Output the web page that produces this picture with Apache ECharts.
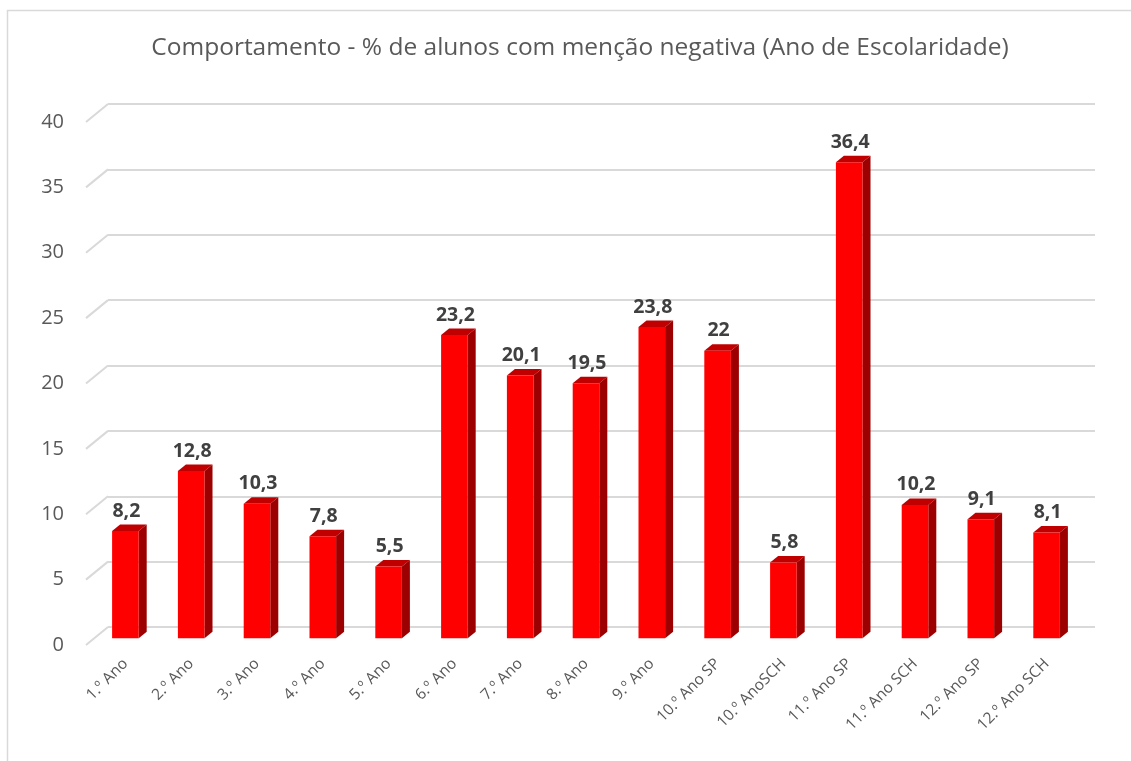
<!DOCTYPE html>
<html>
<head>
<meta charset="utf-8">
<script src="https://cdn.jsdelivr.net/npm/echarts@6/dist/echarts.min.js"></script>
<style>
html,body{margin:0;padding:0;background:#fff;}
#chart{width:1131px;height:761px;}
</style>
</head>
<body>
<div id="chart"></div>
<script>
var titleText = 'Comportamento - % de alunos com menção negativa (Ano de Escolaridade)';
var categories = ['1.º Ano','2.º Ano','3.º Ano','4.º Ano','5.º Ano','6.º Ano','7.º Ano','8.º Ano','9.º Ano','10.º Ano SP','10.º AnoSCH','11.º Ano SP','11.º Ano SCH','12.º Ano SP','12.º Ano SCH'];
var values = [8.2, 12.8, 10.3, 7.8, 5.5, 23.2, 20.1, 19.5, 23.8, 22, 5.8, 36.4, 10.2, 9.1, 8.1];
var yTicks = [0, 5, 10, 15, 20, 25, 30, 35, 40];

var FONT = '"Open Sans", "Noto Sans", sans-serif';
var chart = echarts.init(document.getElementById('chart'), null, {renderer: 'canvas'});

function fmt(v){ return String(v).replace('.', ','); }

function renderBar(params, api){
  var i = api.value(0), v = api.value(1);
  var top = api.coord([i, v]);
  var base = api.coord([i, 0]);
  var hw = 13.3, dx = 8, dy = 6.5;
  var xl = top[0] - hw, xr = top[0] + hw;
  return {
    type: 'group',
    children: [
      {type: 'polygon', shape: {points: [[xl, top[1]], [xl + dx, top[1] - dy], [xr + dx, top[1] - dy], [xr, top[1]]]}, style: {fill: '#C00000'}},
      {type: 'polygon', shape: {points: [[xr, top[1]], [xr + dx, top[1] - dy], [xr + dx, base[1] - dy], [xr, base[1]]]}, style: {fill: '#9C0000'}},
      {type: 'rect', shape: {x: xl, y: top[1], width: 2 * hw, height: base[1] - top[1]}, style: {fill: '#FF0000'}},
      {type: 'text', style: {text: fmt(v), x: top[0] + 1, y: top[1] - 10, textAlign: 'center', textVerticalAlign: 'bottom', font: 'bold 19.5px ' + FONT, fill: '#404040'}}
    ]
  };
}

function renderDiag(params, api){
  var v = api.value(1);
  var p = api.coord([0, v]);
  var x0 = params.coordSys.x;
  return {type: 'line', shape: {x1: x0, y1: p[1], x2: x0 - 22, y2: p[1] + 18}, style: {stroke: '#D9D9D9', lineWidth: 2}};
}

var option = {
  backgroundColor: '#fff',
  animation: false,
  title: {
    text: titleText, left: 575, top: 31, textAlign: 'center',
    textStyle: {fontFamily: FONT, fontSize: 24.5, fontWeight: 'normal', color: '#595959'}
  },
  graphic: [{
    type: 'rect', shape: {x: 7.5, y: 10.5, width: 1140, height: 770},
    style: {fill: 'none', stroke: '#D9D9D9', lineWidth: 1.5}, silent: true
  }],
  grid: [
    {left: 108, right: 36, top: 104, bottom: 134},
    {left: 92.5, right: 51.5, top: 115.3, bottom: 122.7},
    {left: 86, right: 58, top: 122, bottom: 116}
  ],
  xAxis: [
    {gridIndex: 0, type: 'category', data: categories, axisLine: {show: false}, axisTick: {show: false}, axisLabel: {show: false}},
    {gridIndex: 1, type: 'category', data: categories, axisLine: {show: false}, axisTick: {show: false},
      axisLabel: {interval: 0, rotate: 45, margin: 23, fontFamily: FONT, fontSize: 15.5, color: '#595959'}},
    {gridIndex: 2, type: 'category', data: categories, show: false}
  ],
  yAxis: [
    {gridIndex: 0, type: 'value', min: 0, max: 40, interval: 5, axisLabel: {show: false}, axisLine: {show: false}, axisTick: {show: false},
      splitLine: {lineStyle: {color: '#D9D9D9', width: 2}}},
    {gridIndex: 1, type: 'value', min: 0, max: 40, interval: 5, show: false, splitLine: {show: false}},
    {gridIndex: 2, type: 'value', min: 0, max: 40, interval: 5, axisLine: {show: false}, axisTick: {show: false}, splitLine: {show: false},
      axisLabel: {margin: 22, fontFamily: FONT, fontSize: 20, color: '#595959'}}
  ],
  series: [
    {type: 'custom', xAxisIndex: 0, yAxisIndex: 0, renderItem: renderDiag, data: yTicks.map(function(t){ return [0, t]; }), silent: true},
    {type: 'custom', xAxisIndex: 1, yAxisIndex: 1, renderItem: renderBar, data: values.map(function(v, i){ return [i, v]; })}
  ]
};
chart.setOption(option);
</script>
</body>
</html>
